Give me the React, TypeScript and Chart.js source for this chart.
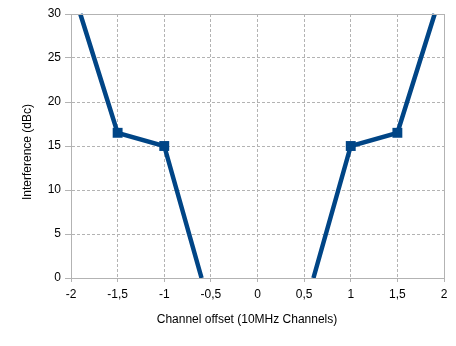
import React, { useEffect, useRef } from "react";
import { Chart, registerables } from "chart.js";

Chart.register(...registerables);

const leftX = [-1.9, -1.5, -1, -0.6];
const leftY = [30, 16.5, 15, 0];
const rightX = [0.6, 1, 1.5, 1.9];
const rightY = [0, 15, 16.5, 30];
const leftMarkers = [0, 7, 7, 0];
const rightMarkers = [0, 7, 7, 0];
const xTicks = [-2, -1.5, -1, -0.5, 0, 0.5, 1, 1.5, 2];
const yTicks = [0, 5, 10, 15, 20, 25, 30];
const xTitle = "Channel offset (10MHz Channels)";
const yTitle = "Interference (dBc)";

const fmt = (v: number) => String(v).replace(".", ",");

export default function App() {
  const ref = useRef<HTMLCanvasElement>(null);
  useEffect(() => {
    const color = "#004586";
    const frame = {
      id: "frame",
      afterDraw(chart: any) {
        const { ctx, chartArea: a } = chart;
        ctx.save();
        ctx.strokeStyle = "#b3b3b3";
        ctx.lineWidth = 1;
        ctx.setLineDash([]);
        ctx.strokeRect(Math.round(a.left) + 0.5, Math.round(a.top) + 0.5, Math.round(a.right - a.left), Math.round(a.bottom - a.top));
        ctx.fillStyle = "#000";
        ctx.font = "12px 'Liberation Sans'";
        ctx.textAlign = "center";
        ctx.textBaseline = "middle";
        ctx.fillText(xTitle, 247, 320);
        ctx.translate(28, 152);
        ctx.rotate(-Math.PI / 2);
        ctx.fillText(yTitle, 0, 0);
        ctx.restore();
      },
    };
    const mk = (xs: number[], ys: number[], r: number[]) => ({
      data: xs.map((x, i) => ({ x, y: ys[i] })),
      borderColor: color,
      backgroundColor: color,
      borderWidth: 4.5,
      showLine: true,
      pointStyle: "rect" as const,
      pointRadius: r,
      pointHoverRadius: r,
      pointBorderWidth: 0,
      clip: false as any,
    });
    const chart = new Chart(ref.current!, {
      type: "scatter",
      data: {
        datasets: [mk(leftX, leftY, leftMarkers), mk(rightX, rightY, rightMarkers)],
      },
      plugins: [frame],
      options: {
        animation: false,
        responsive: false,
        maintainAspectRatio: false,
        layout: { padding: { left: 21, right: 12, top: 14, bottom: 19 } },
        plugins: { legend: { display: false }, tooltip: { enabled: false } },
        scales: {
          x: {
            type: "linear",
            min: -2,
            max: 2,
            afterBuildTicks: (s: any) => {
              s.ticks = xTicks.map((v) => ({ value: v }));
            },
            afterFit: (s: any) => {
              s.height = 49;
            },
            ticks: {
              color: "#000",
              font: { family: "Liberation Sans", size: 12 },
              padding: 5,
              maxRotation: 0,
              autoSkip: false,
              callback: (v: any) => fmt(Number(v)),
            },
            grid: {
              color: "#b3b3b3",
              tickLength: 4,
              tickColor: "#b3b3b3",
            } as any,
            border: { color: "#b3b3b3", dash: [3, 2] } as any,
            title: { display: false },
          },
          y: {
            type: "linear",
            min: 0,
            max: 30,
            afterBuildTicks: (s: any) => {
              s.ticks = yTicks.map((v) => ({ value: v }));
            },
            afterFit: (s: any) => {
              s.width = 50;
            },
            ticks: {
              color: "#000",
              font: { family: "Liberation Sans", size: 12 },
              padding: 4,
              callback: (v: any) => fmt(Number(v)),
            },
            grid: {
              color: "#b3b3b3",
              tickLength: 6,
              tickColor: "#b3b3b3",
            } as any,
            border: { color: "#b3b3b3", dash: [3, 2] } as any,
            title: { display: false },
          },
        },
      },
    });
    return () => chart.destroy();
  }, []);
  return (
    <div style={{ position: "absolute", left: 0, top: 0, width: 456, height: 346 }}>
      <canvas ref={ref} width={456} height={346} style={{ display: "block" }} />
    </div>
  );
}
